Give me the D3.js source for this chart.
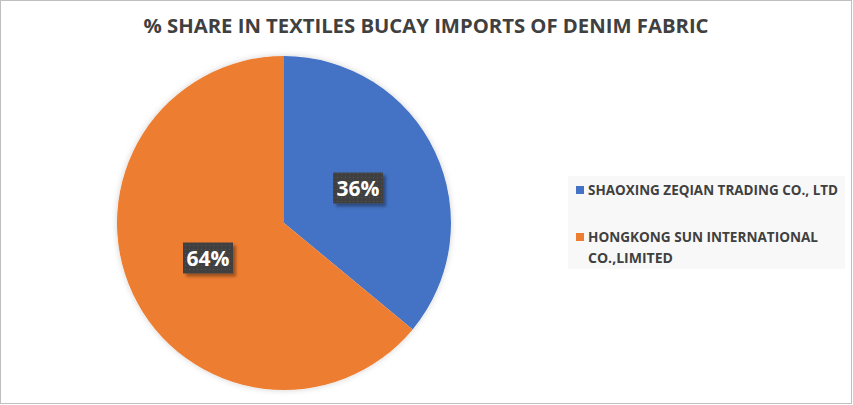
<!DOCTYPE html>
<html><head><meta charset="utf-8">
<script src="https://cdn.jsdelivr.net/npm/d3@7"></script>
<style>body{margin:0;background:#fff}svg{display:block}</style>
</head><body>
<script>
const title = "% SHARE IN TEXTILES BUCAY IMPORTS OF DENIM FABRIC";
const categories = ["SHAOXING ZEQIAN TRADING CO., LTD", "HONGKONG SUN INTERNATIONAL CO.,LIMITED"];
const legendLines = [["SHAOXING ZEQIAN TRADING CO., LTD"], ["HONGKONG SUN INTERNATIONAL", "CO.,LIMITED"]];
const values = [36, 64];
const colors = ["#4472C4", "#ED7D31"];

const W = 853, H = 405;
const svg = d3.select("body").append("svg").attr("width", W).attr("height", H);
const defs = svg.append("defs");
const f = defs.append("filter").attr("id","sh").attr("x","-20%").attr("y","-20%").attr("width","150%").attr("height","150%");
f.append("feDropShadow").attr("dx",3).attr("dy",3).attr("stdDeviation",1.5).attr("flood-color","#000").attr("flood-opacity",0.35);
const pf = defs.append("filter").attr("id","psh").attr("x","-10%").attr("y","-10%").attr("width","120%").attr("height","120%");
pf.append("feDropShadow").attr("dx",0).attr("dy",0).attr("stdDeviation",3).attr("flood-color","#000").attr("flood-opacity",0.18);
const pat = defs.append("pattern").attr("id","dots").attr("width",4).attr("height",4).attr("patternUnits","userSpaceOnUse");
pat.append("rect").attr("width",4).attr("height",4).attr("fill","#404040");
pat.append("rect").attr("x",1).attr("y",1).attr("width",1).attr("height",1).attr("fill","#555");

svg.append("rect").attr("x",0.5).attr("y",0.5).attr("width",W-2).attr("height",H-2)
  .attr("fill","#fff").attr("stroke","#bfbfbf").attr("stroke-width",1);

const fontFam = "'Open Sans', 'DejaVu Sans', sans-serif";
function fit(sel, w){
  const n = sel.node(); const l = n.getComputedTextLength();
  if (l > 0) sel.attr("textLength", w).attr("lengthAdjust","spacingAndGlyphs");
}
const t = svg.append("text").attr("x",426).attr("y",33).attr("text-anchor","middle")
  .attr("font-family",fontFam).attr("font-weight","bold").attr("font-size",20)
  .attr("fill","#404040").text(title);
fit(t, 565);

const cx = 284, cy = 223, r = 167;
const pie = d3.pie().sort(null).value(d=>d);
const arcs = pie(values);
const arc = d3.arc().innerRadius(0).outerRadius(r);
const g = svg.append("g").attr("transform",`translate(${cx},${cy})`);
g.append("circle").attr("r",r).attr("fill","#fff").attr("filter","url(#psh)");
g.selectAll("path.slice").data(arcs).join("path").attr("class","slice")
  .attr("d",arc).attr("fill",(d,i)=>colors[i]);

const labelPos = [[358,188],[208,258]];
arcs.forEach((d,i)=>{
  const [x,y] = labelPos[i];
  const lg = svg.append("g");
  lg.append("rect").attr("x",x-25).attr("y",y-15.5).attr("width",50).attr("height",31)
    .attr("fill","url(#dots)").attr("filter","url(#sh)");
  lg.append("text").attr("x",x).attr("y",y+7.5).attr("text-anchor","middle")
    .attr("font-family",fontFam).attr("font-weight","bold").attr("font-size",21)
    .attr("fill","#fff").text(Math.round(d.value/d3.sum(values)*100)+"%");
});

svg.append("rect").attr("x",568).attr("y",176).attr("width",277).attr("height",93).attr("fill","#f8f8f8");
const legY = [190, 237];
const widths = [[250],[230, 85]];
legendLines.forEach((lines,i)=>{
  svg.append("rect").attr("x",576).attr("y",legY[i]-4).attr("width",8).attr("height",8).attr("fill",colors[i]);
  lines.forEach((ln,j)=>{
    const tt = svg.append("text").attr("x",588).attr("y",legY[i]+5+j*21)
      .attr("font-family",fontFam).attr("font-weight","bold").attr("font-size",13.5)
      .attr("fill","#404040").text(ln);
    fit(tt, widths[i][j]);
  });
});
</script>
</body></html>
